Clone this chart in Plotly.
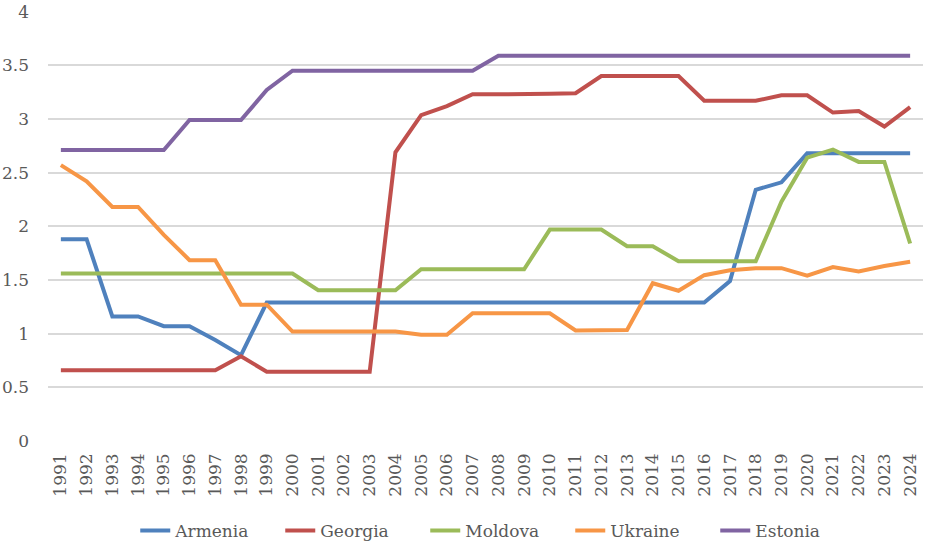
import plotly.graph_objects as go

years = [str(y) for y in range(1991, 2025)]

armenia = [1.88, 1.88, 1.16, 1.16, 1.07, 1.07, 0.94, 0.80,
           1.29, 1.29, 1.29, 1.29, 1.29, 1.29, 1.29, 1.29, 1.29, 1.29,
           1.29, 1.29, 1.29, 1.29, 1.29, 1.29, 1.29, 1.29,
           1.49, 2.34, 2.41, 2.68, 2.68, 2.68, 2.68, 2.68]

georgia = [0.66, 0.66, 0.66, 0.66, 0.66, 0.66, 0.66, 0.79,
           0.645, 0.645, 0.645, 0.645, 0.645,
           2.69, 3.035, 3.12, 3.23, 3.23, 3.23, 3.235, 3.24,
           3.40, 3.40, 3.40, 3.40, 3.17, 3.17, 3.17, 3.22, 3.22,
           3.06, 3.075, 2.93, 3.11]

moldova = [1.56, 1.56, 1.56, 1.56, 1.56, 1.56, 1.56, 1.56, 1.56, 1.56,
           1.405, 1.405, 1.405, 1.405,
           1.60, 1.60, 1.60, 1.60, 1.60,
           1.97, 1.97, 1.97,
           1.815, 1.815,
           1.675, 1.675, 1.675, 1.675,
           2.23, 2.64, 2.715, 2.60, 2.60, 1.84]

ukraine = [2.57, 2.42, 2.18, 2.18, 1.92, 1.685, 1.685, 1.27, 1.27,
           1.02, 1.02, 1.02, 1.02, 1.02,
           0.99, 0.99,
           1.19, 1.19, 1.19, 1.19,
           1.03, 1.03, 1.035,
           1.47, 1.40, 1.545, 1.59, 1.61, 1.61, 1.54, 1.62, 1.58, 1.63, 1.67]

estonia = [2.71, 2.71, 2.71, 2.71, 2.71,
           2.99, 2.99, 2.99,
           3.27,
           3.45, 3.45, 3.45, 3.45, 3.45, 3.45, 3.45, 3.45,
           3.59, 3.59, 3.59, 3.59, 3.59, 3.59, 3.59, 3.59, 3.59,
           3.59, 3.59, 3.59, 3.59, 3.59, 3.59, 3.59, 3.59]

series = [
    ("Armenia", armenia, "#4F81BD"),
    ("Georgia", georgia, "#C0504D"),
    ("Moldova", moldova, "#9BBB59"),
    ("Ukraine", ukraine, "#F79646"),
    ("Estonia", estonia, "#8064A2"),
]

y_ticks = [0, 0.5, 1, 1.5, 2, 2.5, 3, 3.5, 4]
y_labels = ["0", "0.5", "1", "1.5", "2", "2.5", "3", "3.5", "4"]

font_family = "DejaVu Serif"
text_color = "#595959"

fig = go.Figure()
for name, vals, color in series:
    fig.add_trace(go.Scatter(
        x=years, y=vals, name=name, mode="lines",
        line=dict(color=color, width=4, shape="linear"),
    ))

fig.update_layout(
    width=927, height=545,
    margin=dict(l=48, r=4, t=11, b=104, autoexpand=False),
    paper_bgcolor="white", plot_bgcolor="white",
    font=dict(family=font_family, size=17, color=text_color),
    showlegend=True,
    legend=dict(
        orientation="h", x=0.514, xanchor="center", y=-0.209, yanchor="middle",
        font=dict(family=font_family, size=17, color=text_color),
        bgcolor="rgba(0,0,0,0)",
        entrywidth=100, entrywidthmode="pixels",
    ),
    xaxis=dict(
        type="category", range=[-0.5, 33.5], automargin=False,
        showgrid=False, zeroline=False, showline=False,
        tickangle=-90, ticks="", ticklabelstandoff=8,
        tickfont=dict(family=font_family, size=17, color=text_color),
    ),
    yaxis=dict(
        range=[0, 4.006], tickvals=y_ticks, ticktext=y_labels, automargin=False,
        showgrid=True, gridcolor="#D9D9D9", gridwidth=1.5,
        zeroline=False, showline=False, ticks="",
        ticklabelstandoff=18,
        tickfont=dict(family=font_family, size=17, color=text_color),
    ),
)

# Remove the browser's default 8px body margin so the figure fills the window exactly.
fig.write_html(
    "out.html",
    config={"displayModeBar": False},
    post_script="document.body.style.margin='0';",
)
